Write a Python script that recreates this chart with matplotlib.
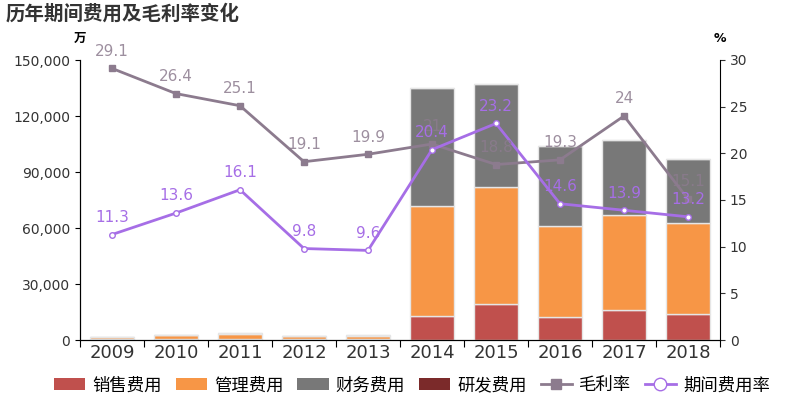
import numpy as np
import matplotlib.pyplot as plt
from matplotlib.lines import Line2D
from matplotlib.patches import Patch

plt.rcParams['font.family'] = ['DejaVu Sans', 'Noto Sans CJK SC']

# 数据
anos = ['2009', '2010', '2011', '2012', '2013', '2014', '2015', '2016', '2017', '2018']
vendas = [300, 400, 400, 300, 300, 13000, 19300, 12300, 16100, 13900]
gestao = [1300, 2200, 3000, 1900, 2100, 58800, 62700, 48800, 50900, 48800]
financeiro = [200, 300, 200, 200, 200, 63200, 55100, 42800, 40100, 34300]
pesquisa = [0, 0, 0, 0, 0, 0, 0, 0, 0, 0]
margem = [29.1, 26.4, 25.1, 19.1, 19.9, 21, 18.8, 19.3, 24, 15.1]
taxa = [11.3, 13.6, 16.1, 9.8, 9.6, 20.4, 23.2, 14.6, 13.9, 13.2]

cor_vendas = '#c0504d'
cor_gestao = '#f79646'
cor_fin = '#787878'
cor_pesq = '#7b2a2a'
cor_margem = '#8c7b8e'
cor_taxa = '#a66ee6'

fig = plt.figure(figsize=(8, 4), dpi=100)
ax = fig.add_axes([0.1, 0.15, 0.8, 0.7])
x = np.arange(len(anos))
w = 0.7
base = np.zeros(len(anos))
for vals, cor in [(vendas, cor_vendas), (gestao, cor_gestao), (financeiro, cor_fin), (pesquisa, cor_pesq)]:
    ax.bar(x, vals, w, bottom=base, color=cor, edgecolor='#e6e6e6', linewidth=1)
    base = base + np.array(vals)

ax.set_xlim(-0.5, len(anos) - 0.5)
ax.set_ylim(0, 150000)
ax.set_yticks(np.arange(0, 150001, 30000))
ax.set_yticklabels(['{:,}'.format(v) for v in range(0, 150001, 30000)], fontsize=10, color='#333333')
ax.set_xticks(np.arange(-0.5, len(anos), 1))
ax.set_xticklabels([])
ax.set_xticks(x, minor=True)
ax.set_xticklabels(anos, minor=True, fontsize=13, color='#333333')
ax.tick_params(axis='x', which='minor', length=0, pad=3)
ax.tick_params(axis='x', which='major', length=5)
ax.spines['top'].set_visible(False)
ax.spines['right'].set_visible(False)

ax2 = ax.twinx()
ax2.set_ylim(0, 30)
ax2.set_yticks(range(0, 31, 5))
ax2.tick_params(labelsize=10, colors='#333333')
ax2.spines['top'].set_visible(False)
ax2.plot(x, margem, color=cor_margem, lw=2, marker='s', ms=4)
ax2.plot(x, taxa, color=cor_taxa, lw=2, marker='o', ms=4, mfc='white', mec=cor_taxa)
for xi, v in zip(x, margem):
    ax2.annotate('{:g}'.format(v), (xi, v), xytext=(0, 7), textcoords='offset points',
                 ha='center', va='bottom', fontsize=11, color=cor_margem, alpha=0.85)
for xi, v in zip(x, taxa):
    ax2.annotate('{:g}'.format(v), (xi, v), xytext=(0, 7), textcoords='offset points',
                 ha='center', va='bottom', fontsize=11, color=cor_taxa)

fig.text(0.007, 0.965, '历年期间费用及毛利率变化', fontsize=14, fontweight='bold', color='#333333', va='center',
         family=['Noto Sans CJK SC'])
fig.text(0.1, 0.905, '万', fontsize=9, fontweight='bold', ha='center', va='center')
fig.text(0.9, 0.905, '%', fontsize=9, fontweight='bold', ha='center', va='center')

handles = [Patch(facecolor=cor_vendas, label='销售费用'),
           Patch(facecolor=cor_gestao, label='管理费用'),
           Patch(facecolor=cor_fin, label='财务费用'),
           Patch(facecolor=cor_pesq, label='研发费用'),
           Line2D([], [], color=cor_margem, marker='s', ms=7, lw=2, label='毛利率'),
           Line2D([], [], color=cor_taxa, marker='o', ms=9, mfc='white', lw=2, label='期间费用率')]
fig.legend(handles=handles, loc='lower center', bbox_to_anchor=(0.515, -0.025), ncol=6, frameon=False,
           fontsize=12.5, handlelength=1.8, columnspacing=0.8, handletextpad=0.4)

fig.savefig('out.png', dpi=100)
